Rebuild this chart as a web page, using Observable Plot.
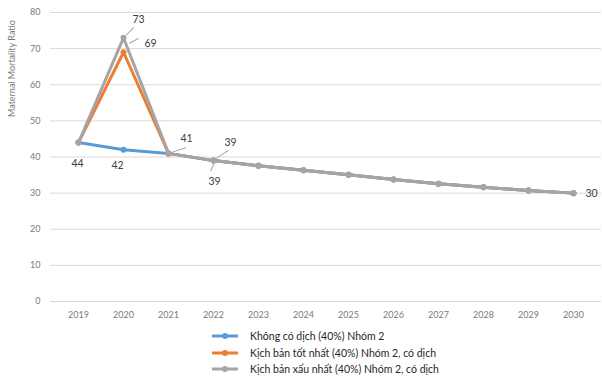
<!DOCTYPE html>
<html>
<head>
<meta charset="utf-8">
<script src="https://cdn.jsdelivr.net/npm/d3@7"></script>
<script src="https://cdn.jsdelivr.net/npm/@observablehq/plot@0.6"></script>
<style>
  body { margin: 0; background: #fff; font-family: Lato, "Noto Sans", sans-serif; }
  #chart { width: 602px; height: 381px; overflow: hidden; }
  .legend { margin-left: 212px; padding-top: 2px; font-size: 10.5px; color: #262626; }
  .legend .row { display: flex; align-items: center; height: 16.5px; }
  .legend svg { margin-right: 12px; }
</style>
</head>
<body>
<div id="chart"></div>
<script>
// Maternal mortality ratio projections, 2019–2030
const years = [2019, 2020, 2021, 2022, 2023, 2024, 2025, 2026, 2027, 2028, 2029, 2030];
const seriesNames = [
  "Không có dịch (40%) Nhóm 2",
  "Kịch bản tốt nhất (40%) Nhóm 2, có dịch",
  "Kịch bản xấu nhất (40%) Nhóm 2, có dịch"
];
const seriesColors = ["#5b9bd5", "#ed7d31", "#a5a5a5"];
const noEpidemic = [44, 42, 41, 39, 37.6, 36.3, 35.1, 33.8, 32.6, 31.6, 30.7, 30];
const bestCase   = [44, 69, 41, 39, 37.6, 36.3, 35.1, 33.8, 32.6, 31.6, 30.7, 30];
const worstCase  = [44, 73, 41, 39, 37.6, 36.3, 35.1, 33.8, 32.6, 31.6, 30.7, 30];
const yTicks = [0, 10, 20, 30, 40, 50, 60, 70, 80];
const yTitle = "Maternal Mortality Ratio";

const seriesValues = [noEpidemic, bestCase, worstCase];
const rows = seriesValues.flatMap((vals, si) =>
  vals.map((value, i) => ({series: seriesNames[si], si, year: years[i], value}))
);

const textColor = "#404040";
const fmt = v => String(Math.round(v));

// one data label, optionally with a short leader line back to its point
function valueLabel(si, year, dx, dy, opts = {}) {
  const d = rows.filter(r => r.si === si && r.year === year);
  const marks = [
    Plot.text(d, {
      x: "year", y: "value", text: r => fmt(r.value),
      dx, dy, fill: textColor, fontSize: 10.5,
      textAnchor: opts.anchor || "middle"
    })
  ];
  if (opts.leader) {
    const [ldx, ldy, len, rot] = opts.leader;
    marks.push(Plot.vector(d, {
      x: "year", y: "value", dx: ldx, dy: ldy, length: len, rotate: rot,
      anchor: "start", stroke: "#a5a5a5", strokeWidth: 1,
      shape: {draw(ctx, l) { ctx.moveTo(0, 0); ctx.lineTo(0, -l); }}
    }));
  }
  return marks;
}

const chart = Plot.plot({
  width: 602,
  height: 326,
  marginLeft: 50,
  marginRight: 1,
  marginTop: 12,
  marginBottom: 25,
  style: {fontFamily: "Lato, 'Noto Sans', sans-serif", fontSize: "9px", color: "#7a7a7a", background: "white"},
  x: {type: "point", domain: years, padding: 0.5, label: null, tickSize: 0, tickPadding: 10, tickFormat: d => String(d)},
  y: {domain: [0, 80], ticks: yTicks, label: null, tickSize: 0, tickPadding: 10},
  marks: [
    Plot.gridY(yTicks, {stroke: "#d9d9d9", strokeOpacity: 1}),
    Plot.axisX({tickSize: 0, tickPadding: 10, tickFormat: d => String(d)}),
    Plot.axisY(yTicks, {tickSize: 0, tickPadding: 10}),
    Plot.text([yTitle], {frameAnchor: "left", rotate: -90, dx: -38, dy: -40, fill: "#7a7a7a", fontSize: 9}),
    ...seriesValues.flatMap((_, si) => {
      const d = rows.filter(r => r.si === si);
      return [
        Plot.line(d, {x: "year", y: "value", stroke: seriesColors[si], strokeWidth: 3}),
        Plot.dot(d, {x: "year", y: "value", fill: seriesColors[si], r: 3})
      ];
    }),
    ...valueLabel(0, 2019, -1, 21),
    ...valueLabel(0, 2020, -6, 16),
    ...valueLabel(2, 2021, 18, -15, {leader: [3, -1, 15, 72]}),
    ...valueLabel(2, 2022, 17, -18, {leader: [2, -2, 15, 58]}),
    ...valueLabel(0, 2022, 1, 21, {leader: [1, 2, 9, 205]}),
    ...valueLabel(2, 2020, 15, -18, {leader: [3, -3, 10, 45]}),
    ...valueLabel(1, 2020, 27, -9, {leader: [6, -9, 10, 62]}),
    ...valueLabel(2, 2030, 12, 0, {anchor: "start"})
  ]
});

const root = document.getElementById("chart");
root.appendChild(chart);

// line-and-marker legend under the chart
const legend = document.createElement("div");
legend.className = "legend";
seriesNames.forEach((name, si) => {
  const row = document.createElement("div");
  row.className = "row";
  row.innerHTML =
    `<svg width="26" height="10"><line x1="0" x2="26" y1="5" y2="5" stroke="${seriesColors[si]}" stroke-width="3"/>` +
    `<circle cx="13" cy="5" r="3" fill="${seriesColors[si]}"/></svg><span>${name}</span>`;
  legend.appendChild(row);
});
root.appendChild(legend);
</script>
</body>
</html>
